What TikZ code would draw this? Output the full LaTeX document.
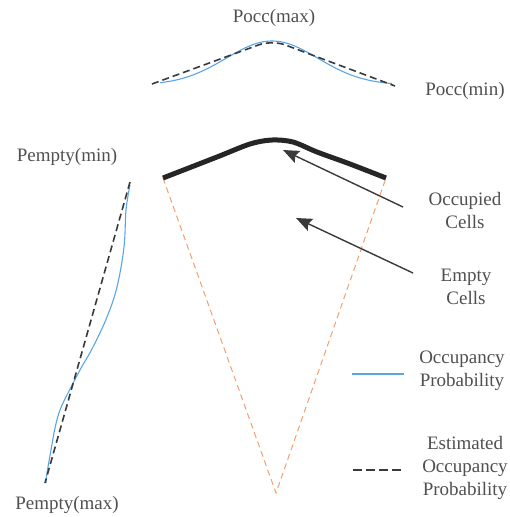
\documentclass[tikz,border=0pt]{standalone}
\usepackage{fontspec}
\setmainfont{Liberation Serif}
\usetikzlibrary{arrows.meta}
\definecolor{txtgray}{HTML}{505050}
\definecolor{lineblue}{HTML}{5AA5E6}
\definecolor{dashgray}{HTML}{3A3A3A}
\definecolor{beamorange}{HTML}{F0A070}
\tikzset{
  lbl/.style={text=txtgray, font=\fontsize{19}{23}\selectfont, align=center, inner sep=0pt},
  probline/.style={draw=lineblue, line width=1.1pt},
  estline/.style={draw=dashgray, line width=1.6pt, dash pattern=on 7pt off 4pt},
  beam/.style={draw=beamorange, line width=1pt, dash pattern=on 6pt off 4pt},
  cellarrow/.style={draw=dashgray, line width=1.4pt, -{Stealth[length=16pt,width=13pt,inset=2.5pt]}},
}
\begin{document}
\begin{tikzpicture}[x=1pt,y=-1pt]
\useasboundingbox (0,0) rectangle (510,517);
% labels
\node[lbl] (poccmax) at (274,18) {Pocc(max)};
\node[lbl] (poccmin) at (465,91) {Pocc(min)};
\node[lbl] (pemin) at (67,157) {Pempty(min)};
\node[lbl] (pemax) at (67,505) {Pempty(max)};
\node[lbl] (occ) at (465,210) {Occupied\\Cells};
\node[lbl] (emp) at (466,287) {Empty\\Cells};
\node[lbl] (leg1) at (462,371) {Occupancy\\Probability};
\node[lbl] (leg2) at (465,468) {Estimated\\Occupancy\\Probability};
% top distribution
\draw[probline] plot[domain=160:392, samples=80, smooth] (\x,{85-44*exp(-((\x-272)/65)^2)});
\draw[estline, rounded corners=14pt] (152,84) -- (272,40) -- (395,86);
% left distribution
\draw[probline] plot[smooth, tension=0.6] coordinates {(130,185) (126,210) (124,247) (117,287) (107,317) (93,347) (80,370) (68,393) (60,410) (55,428) (51,450) (47,473) (46,483)};
\draw[estline] (130,182) -- (45,483);
% beam
\coordinate (bl) at (163,178);
\coordinate (br) at (386,178);
\coordinate (apex) at (276,493);
\draw[beam] (bl) -- (apex) -- (br);
% occupied arc
\draw[line width=5pt, draw=black!85] plot[smooth, tension=0.5] coordinates {(bl) (217,157) (250,144) (272,140) (293,142) (317,152) (350,164) (br)};
% arrows
\coordinate (a1t) at (403,207);
\coordinate (a1h) at (283,150);
\coordinate (a2t) at (413,273);
\coordinate (a2h) at (296,218);
\draw[cellarrow] (a1t) -- (a1h);
\draw[cellarrow] (a2t) -- (a2h);
% legend lines
\coordinate (l1a) at (352,374);
\coordinate (l1b) at (404,374);
\coordinate (l2a) at (353,470);
\coordinate (l2b) at (404,470);
\draw[probline, line width=1.8pt] (l1a) -- (l1b);
\draw[estline, line width=2pt, dash pattern=on 9pt off 4pt] (l2a) -- (l2b);
\end{tikzpicture}
\end{document}
